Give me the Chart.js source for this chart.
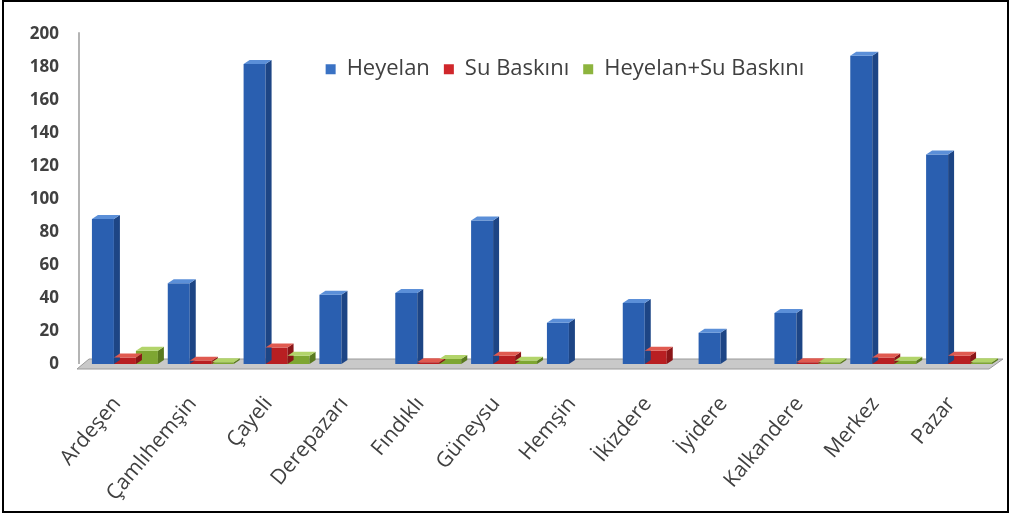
<!DOCTYPE html>
<html>
<head>
<meta charset="utf-8">
<script src="https://cdn.jsdelivr.net/npm/chart.js@4.4.0/dist/chart.umd.min.js"></script>
<style>
  html, body { margin: 0; padding: 0; background: #fff; overflow: hidden; }
  #frame {
    position: absolute; left: 2px; top: 0px;
    width: 1003px; height: 509px;
    border: 2px solid #000;
    overflow: hidden;
  }
  #chart1 { position: absolute; left: -2px; top: -6px; }
</style>
</head>
<body>
<div id="frame"><canvas id="chart1" width="1005" height="517"></canvas></div>
<script>
const districts = ["Ardeşen", "Çamlıhemşin", "Çayeli", "Derepazarı", "Fındıklı", "Güneysu",
    "Hemşin", "İkizdere", "İyidere", "Kalkandere", "Merkez", "Pazar"];
const heyelan   = [88, 49, 182, 42, 43, 87, 25, 37, 19, 31, 187, 127];
const suBaskini = [4, 2, 10, 0, 1, 5, 0, 8, 0, 1, 4, 5];
const ikisi     = [8, 1, 5, 0, 3, 2, 0, 0, 0, 1, 2, 1];
const yTicks    = [0, 20, 40, 60, 80, 100, 120, 140, 160, 180, 200];

const DX = 6, DY = -4;
const WALL = 8; // back wall line sits this far left of the plot

// floor of the 3d chart + side/top faces of the bars
const fake3d = {
    id: 'fake3d',
    afterLayout(chart) {
        // legend sits inside the plot, like the original
        const lg = chart.legend;
        lg.top = chart.chartArea.top + 10;
        lg.bottom = lg.top + 40;
        lg.left += 59; lg.right += 59;
    },
    beforeDatasetsDraw(chart) {
        const ctx = chart.ctx;
        const a = chart.chartArea;
        const y0 = chart.scales.y.getPixelForValue(0);
        const wx = a.left - WALL;
        ctx.save();
        // wall line
        ctx.strokeStyle = '#b4b4b4';
        ctx.lineWidth = 2;
        ctx.beginPath();
        ctx.moveTo(wx, a.top - 2);
        ctx.lineTo(wx, y0);
        ctx.stroke();
        // floor
        ctx.beginPath();
        ctx.moveTo(wx - 2, y0 + 5);
        ctx.lineTo(a.right - 8, y0 + 5);
        ctx.lineTo(a.right + 6, y0 - 5);
        ctx.lineTo(wx + 10, y0 - 5);
        ctx.closePath();
        ctx.fillStyle = '#c9c9c9';
        ctx.fill();
        ctx.strokeStyle = '#9a9a9a';
        ctx.lineWidth = 1;
        ctx.stroke();
        ctx.restore();
    },
    afterDatasetsDraw(chart) {
        const ctx = chart.ctx;
        ctx.save();
        chart.data.datasets.forEach((ds, i) => {
            const meta = chart.getDatasetMeta(i);
            if (meta.hidden) return;
            meta.data.forEach((bar, j) => {
                if (!ds.data[j]) return;
                const p = bar.getProps(['x', 'y', 'base', 'width'], true);
                const l = p.x - p.width / 2, r = p.x + p.width / 2;
                // right side
                ctx.beginPath();
                ctx.moveTo(r, p.base);
                ctx.lineTo(r + DX, p.base + DY);
                ctx.lineTo(r + DX, p.y + DY);
                ctx.lineTo(r, p.y);
                ctx.closePath();
                ctx.fillStyle = ds.sideColor;
                ctx.fill();
                // top
                ctx.beginPath();
                ctx.moveTo(l, p.y);
                ctx.lineTo(r, p.y);
                ctx.lineTo(r + DX, p.y + DY);
                ctx.lineTo(l + DX, p.y + DY);
                ctx.closePath();
                ctx.fillStyle = ds.topColor;
                ctx.fill();
            });
        });
        ctx.restore();
    }
};

function frontGradient(c1, c2) {
    return function (context) {
        const chart = context.chart;
        const el = context.element;
        if (!chart.chartArea || !el || !Number.isFinite(el.x) || !Number.isFinite(el.width)) return c1;
        const w = el.width;
        const g = chart.ctx.createLinearGradient(el.x - w / 2, 0, el.x + w / 2, 0);
        g.addColorStop(0, c1);
        g.addColorStop(0.5, c2);
        g.addColorStop(1, c1);
        return g;
    };
}

const c1 = document.getElementById("chart1");
const chartObject1 = new Chart(c1, {
    type: 'bar',
    data: {
        labels: districts,
        datasets: [{
            label: 'Heyelan',
            data: heyelan,
            backgroundColor: frontGradient('#2a5fb0', '#3f7fd6'),
            sideColor: '#1d4585',
            topColor: '#5b8fd8',
            legendColor: '#3a72c4'
        }, {
            label: 'Su Baskını',
            data: suBaskini,
            backgroundColor: frontGradient('#b81f22', '#dc3a32'),
            sideColor: '#8a1518',
            topColor: '#e05a50',
            legendColor: '#d0272b'
        }, {
            label: 'Heyelan+Su Baskını',
            data: ikisi,
            backgroundColor: frontGradient('#7ea632', '#9dc448'),
            sideColor: '#5a7a20',
            topColor: '#b2d46a',
            legendColor: '#8db43e'
        }]
    },
    options: {
        responsive: false,
        animation: false,
        layout: { padding: { left: 13, right: 10, top: 13, bottom: 4 } },
        datasets: {
            bar: { categoryPercentage: 0.87, barPercentage: 1, borderWidth: 0 }
        },
        plugins: {
            tooltip: { enabled: false },
            legend: {
                position: 'top',
                align: 'center',
                maxHeight: 1,
                labels: {
                    boxWidth: 10,
                    boxHeight: 10,
                    padding: 14,
                    color: '#404040',
                    font: { family: 'Open Sans', size: 22 },
                    generateLabels(chart) {
                        return chart.data.datasets.map((ds, i) => ({
                            text: ds.label,
                            fillStyle: ds.legendColor,
                            strokeStyle: ds.legendColor,
                            lineWidth: 0,
                            hidden: false,
                            datasetIndex: i,
                            fontColor: '#404040'
                        }));
                    }
                }
            }
        },
        scales: {
            x: {
                grid: { display: false, drawTicks: false },
                border: { display: false },
                afterFit(s) { s.height = 145; },
                ticks: {
                    autoSkip: false,
                    minRotation: 50,
                    maxRotation: 50,
                    padding: 28,
                    labelOffset: -8,
                    color: '#404040',
                    font: { family: 'Open Sans', size: 21 }
                }
            },
            y: {
                min: 0,
                max: 200,
                afterBuildTicks(s) { s.ticks = yTicks.map(v => ({ value: v })); },
                afterFit(s) { s.width = 72; },
                grid: { display: false, drawTicks: false },
                border: { display: false },
                ticks: {
                    padding: 28,
                    color: '#404040',
                    font: { family: 'Open Sans', size: 17, weight: 'bold' }
                }
            }
        }
    },
    plugins: [fake3d]
});
</script>
</body>
</html>
